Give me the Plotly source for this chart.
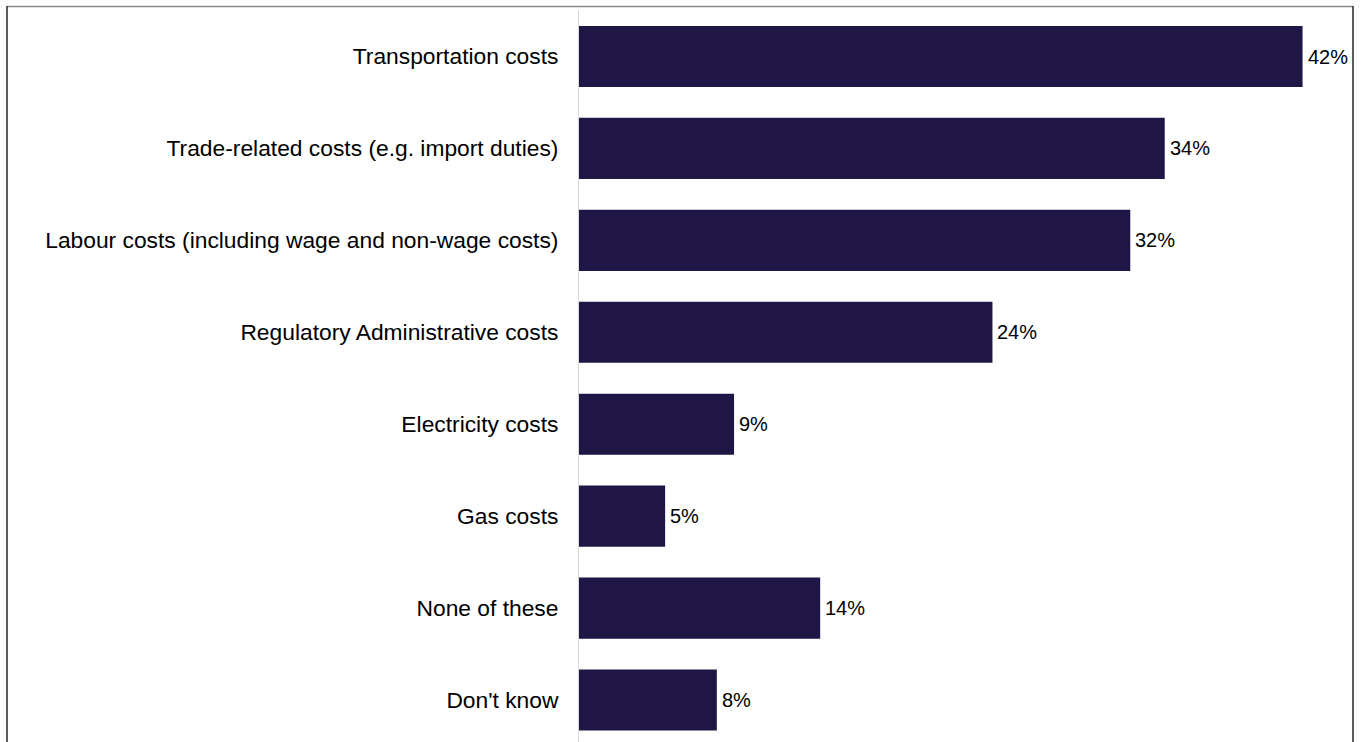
import plotly.graph_objects as go

categories = [
    "Transportation costs",
    "Trade-related costs (e.g. import duties)",
    "Labour costs (including wage and non-wage costs)",
    "Regulatory Administrative costs",
    "Electricity costs",
    "Gas costs",
    "None of these",
    "Don't know",
]
values = [42, 34, 32, 24, 9, 5, 14, 8]
value_labels = [f"{v}%" for v in values]

BAR_COLOR = "#1f1646"
FONT = "Liberation Sans, Arial, sans-serif"

fig = go.Figure(
    go.Bar(
        x=values,
        y=categories,
        orientation="h",
        marker=dict(color=BAR_COLOR, line=dict(width=0)),
        width=0.665,
        hoverinfo="x+y",
    )
)

# value labels just right of each bar end
for cat, val, lab in zip(categories, values, value_labels):
    fig.add_annotation(
        x=val, y=cat, text=lab, showarrow=False,
        xanchor="left", yanchor="middle", xshift=3,
        font=dict(family=FONT, size=20, color="#000000"),
    )

fig.update_layout(
    width=1362,
    height=742,
    margin=dict(l=579, r=25, t=10, b=0),
    paper_bgcolor="#ffffff",
    plot_bgcolor="#ffffff",
    showlegend=False,
    font=dict(family=FONT, color="#000000"),
    xaxis=dict(
        range=[0, 44],
        showgrid=False,
        zeroline=False,
        showticklabels=False,
        showline=False,
        ticks="",
    ),
    yaxis=dict(
        categoryorder="array",
        categoryarray=categories,
        range=[7.457, -0.506],
        showgrid=False,
        zeroline=False,
        showline=True,
        linecolor="#d9d9d9",
        linewidth=1,
        ticks="",
        ticklabelstandoff=15,
        tickfont=dict(family=FONT, size=22.8, color="#000000"),
    ),
    shapes=[
        # outer frame of the chart
        dict(type="line", xref="paper", yref="paper",
             x0=-572 / 758, x1=774 / 758, y0=1 + 3.5 / 732, y1=1 + 3.5 / 732,
             line=dict(color="#8a8a8a", width=1.5)),
        dict(type="line", xref="paper", yref="paper",
             x0=-572 / 758, x1=-572 / 758, y0=1 + 4 / 732, y1=-0.05,
             line=dict(color="#262626", width=1.5)),
        dict(type="line", xref="paper", yref="paper",
             x0=774 / 758, x1=774 / 758, y0=1 + 4 / 732, y1=-0.05,
             line=dict(color="#262626", width=1.5)),
    ],
)

fig.write_html("out.html")
